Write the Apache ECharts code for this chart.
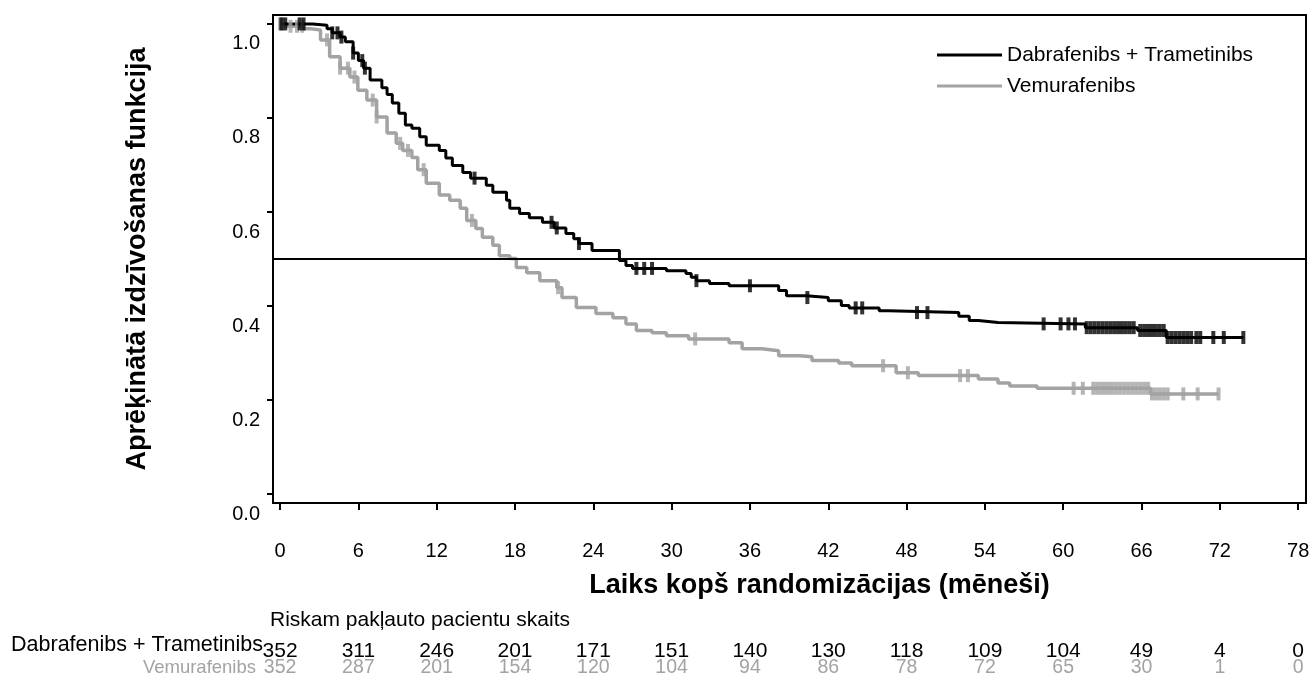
<!DOCTYPE html>
<html>
<head>
<meta charset="utf-8">
<script src="https://cdn.jsdelivr.net/npm/echarts@6/dist/echarts.min.js"></script>
<style>
  html, body { margin: 0; padding: 0; background: #fff; }
  #home { width: 1314px; height: 680px; }
</style>
</head>
<body>
<div id="home"></div>
<script>
// kaplan-meier steps [month, survival]
var curveDT = [
  [0, 1.0], [2.5, 0.997], [3.6, 0.99], [4.0, 0.981], [4.6, 0.972], [5.0, 0.962],
  [5.6, 0.938], [6.0, 0.922], [6.4, 0.906], [6.9, 0.881], [7.8, 0.864], [8.2, 0.85],
  [8.6, 0.832], [9.1, 0.81], [9.6, 0.785], [10.1, 0.778], [10.7, 0.76], [11.2, 0.742],
  [12.2, 0.731], [12.7, 0.715], [13.2, 0.699], [14.0, 0.684], [14.6, 0.672], [15.8, 0.657],
  [16.3, 0.642], [17.35, 0.625], [17.6, 0.608], [18.35, 0.597], [19.1, 0.588], [20.1, 0.578],
  [21.0, 0.566], [21.9, 0.554], [22.5, 0.543], [22.9, 0.533], [23.9, 0.518], [26.0, 0.497],
  [26.5, 0.486], [27.0, 0.48], [29.6, 0.475], [31.1, 0.469], [31.5, 0.461], [31.9, 0.454],
  [32.9, 0.448], [34.4, 0.443], [38.2, 0.433], [38.8, 0.422], [40.3, 0.418], [42.0, 0.411],
  [43.0, 0.401], [43.6, 0.396], [45.9, 0.39], [46.6, 0.386], [52.0, 0.378], [52.8, 0.369],
  [53.5, 0.365], [55.0, 0.362], [61.7, 0.354], [65.7, 0.348], [67.9, 0.333], [73.8, 0.333]
];
var curveV = [
  [0, 1.0], [0.5, 0.995], [1.8, 0.99], [2.3, 0.987], [3.1, 0.966], [3.8, 0.93],
  [4.6, 0.906], [5.35, 0.887], [5.96, 0.859], [6.65, 0.838], [7.4, 0.802], [8.2, 0.768],
  [8.9, 0.746], [9.4, 0.731], [10.1, 0.716], [10.55, 0.69], [11.2, 0.661], [12.2, 0.636],
  [13.0, 0.625], [13.8, 0.608], [14.3, 0.582], [15.0, 0.565], [15.5, 0.546], [16.3, 0.529],
  [16.8, 0.507], [17.6, 0.501], [18.1, 0.482], [18.9, 0.471], [19.9, 0.454], [21.2, 0.439],
  [21.6, 0.418], [22.7, 0.397], [24.2, 0.384], [25.5, 0.375], [26.5, 0.362], [27.3, 0.348],
  [28.5, 0.343], [29.6, 0.337], [31.3, 0.33], [34.4, 0.322], [35.4, 0.309], [36.9, 0.305],
  [38.2, 0.294], [39.8, 0.292], [40.75, 0.284], [42.8, 0.279], [43.8, 0.273], [47.2, 0.258],
  [48.9, 0.252], [53.5, 0.245], [55.0, 0.236], [55.9, 0.23], [58.0, 0.225], [66.7, 0.213],
  [71.9, 0.213]
];
// censored times (months)
var censorDT = [
  0.1, 0.4, 1.5, 1.8, 4.0, 4.4, 4.7, 5.6, 6.3, 6.5, 14.9, 20.8, 21.2, 22.9, 27.3, 27.9,
  28.5, 31.9, 36.0, 40.4, 44.1, 44.6, 48.8, 49.6, 58.5, 59.8, 60.4, 60.9, 61.8, 62.1,
  62.4, 62.7, 63.0, 63.3, 63.6, 63.9, 64.2, 64.5, 64.8, 65.1, 65.4, 65.9, 66.2, 66.5,
  66.8, 67.1, 67.4, 67.7, 68.0, 68.3, 68.6, 68.9, 69.2, 69.5, 69.8, 70.2, 70.5, 71.5,
  72.3, 73.8
];
var censorV = [
  0.0, 0.2, 0.8, 1.3, 1.7, 3.6, 4.6, 5.2, 5.7, 7.1, 7.4, 9.2, 9.8, 11.0, 14.7, 21.3,
  31.8, 46.2, 48.1, 52.1, 52.7, 60.8, 61.5, 62.3, 62.6, 62.9, 63.2, 63.5, 63.8, 64.1,
  64.4, 64.7, 65.0, 65.3, 65.6, 65.9, 66.2, 66.5, 66.8, 67.1, 67.4, 67.7, 68.0, 69.2,
  70.3, 71.9
];
var xTicks = [0, 6, 12, 18, 24, 30, 36, 42, 48, 54, 60, 66, 72, 78];
var yTicks = [0, 0.2, 0.4, 0.6, 0.8, 1.0];
var riskDT = [352, 311, 246, 201, 171, 151, 140, 130, 118, 109, 104, 49, 4, 0];
var riskV = [352, 287, 201, 154, 120, 104, 94, 86, 78, 72, 65, 30, 1, 0];

var nameDT = "Dabrafenibs + Trametinibs";
var nameV = "Vemurafenibs";
var black = "#000000";
var gray = "#a3a3a3";
var font = "Liberation Sans, Arial, sans-serif";

function survAt(curve, t) {
  var s = curve[0][1];
  for (var i = 0; i < curve.length; i++) {
    if (curve[i][0] <= t) s = curve[i][1];
  }
  return s;
}
function censorPoints(curve, times) {
  return times.map(function (t) { return [t, survAt(curve, t)]; });
}

var myChart = echarts.init(document.getElementById("home"));
var option = {
  animation: false,
  textStyle: { fontFamily: font },
  grid: {
    left: 273, top: 15, width: 1033, height: 488,
    show: true, borderColor: black, borderWidth: 2, backgroundColor: "transparent"
  },
  legend: {
    data: [nameDT, nameV],
    orient: "vertical",
    icon: "rect",
    left: 932, top: 39,
    itemWidth: 65, itemHeight: 3, itemGap: 9,
    textStyle: { fontSize: 21, color: black, fontFamily: font, lineHeight: 22 }
  },
  xAxis: {
    type: "value",
    min: -0.54, max: 78.6,
    name: "Laiks kopš randomizācijas (mēneši)",
    nameLocation: "middle", nameGap: 69,
    nameTextStyle: { fontSize: 27, fontWeight: "bold", color: black, fontFamily: font, padding: [0, 0, 0, 60] },
    axisLine: { show: false, onZero: false },
    axisTick: { show: true, length: 7, lineStyle: { color: black, width: 2 }, customValues: xTicks },
    axisLabel: { fontSize: 20, color: black, margin: 38, customValues: xTicks },
    splitLine: { show: false }
  },
  yAxis: {
    type: "value",
    min: -0.019, max: 1.019,
    name: "Aprēķinātā izdzīvošanas funkcija",
    nameLocation: "middle", nameGap: 122, nameRotate: 90,
    nameTextStyle: { fontSize: 27, fontWeight: "bold", color: black, fontFamily: font },
    axisLine: { show: false, onZero: false },
    axisTick: { show: true, length: 6, lineStyle: { color: black, width: 2 }, customValues: yTicks },
    axisLabel: {
      fontSize: 20, color: black, margin: 13, customValues: yTicks,
      verticalAlign: "top", lineHeight: 20, padding: [10, 0, 0, 0],
      formatter: function (v) { return v.toFixed(1); }
    },
    splitLine: { show: false }
  },
  series: [
    {
      name: nameDT, type: "line", step: "end", data: curveDT,
      symbol: "none", lineStyle: { color: black, width: 3 }, itemStyle: { color: black },
      z: 4,
      markLine: {
        silent: true, symbol: "none", label: { show: false },
        lineStyle: { color: black, width: 2, type: "solid" },
        data: [{ yAxis: 0.5 }]
      }
    },
    {
      name: nameV, type: "line", step: "end", data: curveV,
      symbol: "none", lineStyle: { color: gray, width: 3.5 }, itemStyle: { color: gray },
      z: 3
    },
    {
      name: "censorDT", type: "scatter", data: censorPoints(curveDT, censorDT),
      symbol: "rect", symbolSize: [4, 13], itemStyle: { color: black }, z: 5
    },
    {
      name: "censorV", type: "scatter", data: censorPoints(curveV, censorV),
      symbol: "rect", symbolSize: [4, 13], itemStyle: { color: gray }, z: 4
    }
  ]
};
myChart.setOption(option);

// number-at-risk table under the axis
var elements = [
  { type: "text", left: 270, top: 610,
    style: { text: "Riskam pakļauto pacientu skaits", fontSize: 21, fill: black, fontFamily: font } },
  { type: "text", right: 1314 - 263, top: 634,
    style: { text: nameDT, fontSize: 21.5, fill: black, fontFamily: font } },
  { type: "text", right: 1314 - 256, top: 658,
    style: { text: nameV, fontSize: 18.5, fill: gray, fontFamily: font } }
];
xTicks.forEach(function (t, i) {
  var px = myChart.convertToPixel({ xAxisIndex: 0 }, t);
  elements.push({ type: "text", x: px, y: 651,
    style: { text: String(riskDT[i]), fontSize: 21, fill: black, fontFamily: font, align: "center", verticalAlign: "middle" } });
  elements.push({ type: "text", x: px, y: 668,
    style: { text: String(riskV[i]), fontSize: 19.5, fill: gray, fontFamily: font, align: "center", verticalAlign: "middle" } });
});
myChart.setOption({ graphic: { elements: elements } });
</script>
</body>
</html>
